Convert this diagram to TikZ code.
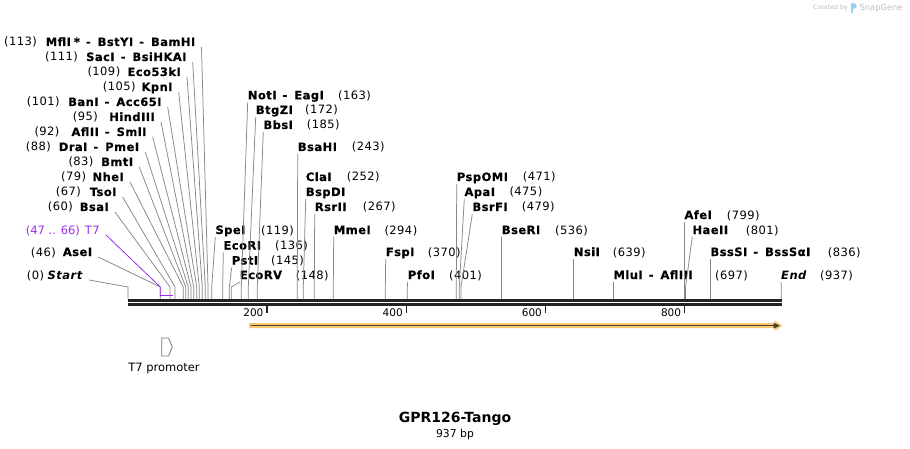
\documentclass[tikz,border=0pt]{standalone}
\usepackage{fontspec}
\setmainfont{DejaVu Sans}[LetterSpace=4, BoldFeatures={FakeBold=0.5}]
\newfontfamily\plainfont{DejaVu Sans}
\usetikzlibrary{calc}
\definecolor{siteg}{RGB}{135,135,135}
\definecolor{tpurple}{RGB}{155,45,235}
\definecolor{bbone}{RGB}{35,35,35}
\definecolor{featorange}{RGB}{250,200,110}
\definecolor{featdark}{RGB}{75,65,50}
\definecolor{wmgray}{RGB}{190,190,190}
\definecolor{wmblue}{RGB}{150,210,240}
\definecolor{promgray}{RGB}{120,120,120}
\newcommand\sepd{\hspace{6pt}-\hspace{7pt}}
\tikzset{
  nm/.style={inner sep=0pt, font=\fontsize{11.5}{13}\selectfont\bfseries},
  num/.style={inner sep=0pt, font=\fontsize{11.5}{13}\selectfont},
  siteline/.style={draw=siteg, line width=0.75pt},
  ticklab/.style={inner sep=0pt, font=\plainfont\fontsize{10.5}{12}\selectfont},
  tickmark/.style={draw=bbone, line width=1.4pt},
}
% left-hand labels: id, right x, baseline, text, stub x
\newcommand\Lsite[5]{%
  \node[nm, anchor=base east] (#1) at (#2,#3) {#4};
  \coordinate (#1t) at (#5,287);
  \coordinate (#1b) at (#5,299);
  \draw[siteline] ([shift={(6,1)}]#1.base east) -- (#1t) -- (#1b);}
% right-hand labels: id, left x, baseline, text, stub x
\newcommand\Rsite[5]{%
  \node[nm, anchor=base west] (#1) at (#2,#3) {#4};
  \coordinate (#1t) at (#5,287);
  \coordinate (#1b) at (#5,299);
  \draw[siteline] ([shift={(0,3)}]#1.base west) -- (#1t) -- (#1b);}
% position number: id, left x, baseline, number
\newcommand\SiteNum[4]{%
  \node[num, anchor=base west] (#1) at (#2,#3) {(#4)};}
\begin{document}
\begin{tikzpicture}[x=1pt,y=-1pt]
\useasboundingbox (0,0) rectangle (910,449);
\fill[white] (0,0) rectangle (910,449);

% ---------- left cluster ----------
\Lsite{mfl}{195.5}{46}{MflI\hspace{3pt}*\sepd BstYI\sepd BamHI}{208}
\SiteNum{nmfl}{4}{46}{113}
\Lsite{sac}{186.7}{61}{SacI\sepd BsiHKAI}{205.3}
\SiteNum{nsac}{45}{61}{111}
\Lsite{ecof}{181}{76}{Eco53kI}{202.3}
\SiteNum{necof}{87.3}{76}{109}
\Lsite{kpn}{172.7}{91}{KpnI}{199.3}
\SiteNum{nkpn}{102.7}{91}{105}
\Lsite{ban}{161.7}{106}{BanI\sepd Acc65I}{196.7}
\SiteNum{nban}{26.7}{106}{101}
\Lsite{hind}{155}{121}{HindIII}{193.7}
\SiteNum{nhind}{72.7}{121}{95}
\Lsite{afl}{146.7}{136}{AflII\sepd SmlI}{191}
\SiteNum{nafl}{34.3}{136}{92}
\Lsite{dra}{139.3}{151}{DraI\sepd PmeI}{188.3}
\SiteNum{ndra}{25.7}{151}{88}
\Lsite{bmt}{133.3}{166}{BmtI}{185.7}
\SiteNum{nbmt}{68.3}{166}{83}
\Lsite{nhe}{124}{181}{NheI}{183.3}
\SiteNum{nnhe}{61}{181}{79}
\Lsite{tso}{116.7}{196}{TsoI}{175}
\SiteNum{ntso}{55.7}{196}{67}
\Lsite{bsa}{109}{211}{BsaI}{170}
\SiteNum{nbsa}{47.7}{211}{60}
\Lsite{ase}{92.3}{256}{AseI}{160.3}
\SiteNum{nase}{30.7}{256}{46}
\Lsite{start}{83.3}{279}{\textit{Start}}{128}
\SiteNum{nstart}{26.7}{279}{0}

% T7 feature label (purple)
\node[num, text=tpurple, anchor=base east] (t7) at (100,234) {T7};
\node[inner sep=0pt, font=\plainfont\fontsize{11.5}{13}\selectfont, text=tpurple, anchor=base west] (nt7) at (25.7,234) {(47 .. 66)};
\coordinate (t7t) at (160.3,287);
\coordinate (t7b) at (160.3,296.3);
\draw[tpurple, line width=0.8pt] ([shift={(6,1)}]t7.base east) -- (t7t) -- (t7b);
\coordinate (t7s) at (160.3,295.5);
\coordinate (t7e) at (172.7,295.5);
\draw[tpurple, line width=1.7pt] (t7s) -- (t7e);

% ---------- middle / right clusters ----------
\Rsite{spe}{215.3}{234}{SpeI}{211.7}
\SiteNum{nspe}{261}{234}{119}
\Rsite{ecori}{223.3}{249.5}{EcoRI}{222.7}
\SiteNum{necori}{275}{249.5}{136}
\Rsite{pst}{231.7}{264.5}{PstI}{229.3}
\SiteNum{npst}{271}{264.5}{145}
\Rsite{ecorv}{239.7}{279}{EcoRV}{231.3}
\SiteNum{necorv}{295.7}{279}{148}
\Rsite{noti}{247.7}{99.3}{NotI\sepd EagI}{241.3}
\SiteNum{nnoti}{338}{99.3}{163}
\Rsite{btg}{255.7}{114}{BtgZI}{248.3}
\SiteNum{nbtg}{305}{114}{172}
\Rsite{bbs}{263.3}{129}{BbsI}{257.3}
\SiteNum{nbbs}{306.7}{129}{185}
\Rsite{bsahi}{297.7}{151}{BsaHI}{297.3}
\SiteNum{nbsahi}{351.7}{151}{243}
\node[nm, anchor=base west] (cla) at (305.7,181) {ClaI};
\SiteNum{ncla}{346.7}{181}{252}
\Rsite{bspd}{305.7}{196}{BspDI}{303.3}
\Rsite{rsr}{314.7}{211}{RsrII}{314.3}
\SiteNum{nrsr}{362.7}{211}{267}
\Rsite{mme}{333.7}{234}{MmeI}{333.3}
\SiteNum{nmme}{384.3}{234}{294}
\Rsite{fsp}{385.7}{256}{FspI}{385.3}
\SiteNum{nfsp}{427.7}{256}{370}
\Rsite{pfo}{407.7}{279}{PfoI}{407.3}
\SiteNum{npfo}{449}{279}{401}
\Rsite{psp}{456.7}{181}{PspOMI}{456.3}
\SiteNum{npsp}{522.7}{181}{471}
\Rsite{apa}{464.3}{196}{ApaI}{459.3}
\SiteNum{napa}{509.3}{196}{475}
\Rsite{bsrf}{472.3}{211}{BsrFI}{461}
\SiteNum{nbsrf}{521.7}{211}{479}
\Rsite{bser}{501.7}{234}{BseRI}{501.7}
\SiteNum{nbser}{555}{234}{536}
\Rsite{nsi}{573.7}{256}{NsiI}{573.7}
\SiteNum{nnsi}{612.7}{256}{639}
\Rsite{mlu}{613.3}{279}{MluI\sepd AflIII}{613.3}
\SiteNum{nmlu}{715}{279}{697}
\Rsite{afe}{684.3}{219}{AfeI}{684.3}
\SiteNum{nafe}{726.7}{219}{799}
\Rsite{hae}{692.3}{234}{HaeII}{685.5}
\SiteNum{nhae}{745.7}{234}{801}
\Rsite{bss}{710.3}{256}{BssSI\sepd BssSαI}{710.3}
\SiteNum{nbss}{827.7}{256}{836}
\Rsite{endl}{781}{279}{\textit{End}}{781.3}
\SiteNum{nendl}{820}{279}{937}

% ---------- backbone ----------
\fill[bbone] (128,299) rectangle (781.7,301.7);
\fill[bbone] (128,303) rectangle (781.7,305.7);
\foreach \tx/\tl in {267/200, 406.3/400, 545.5/600, 684.7/800}{
  \draw[tickmark] (\tx,305.7) -- (\tx,313);
  \node[ticklab, anchor=base east] (tk\tl) at (\tx-3.4,316) {\tl};
}

% ---------- orange feature ----------
\fill[featorange] (249,323.2) -- (774.5,323.2) -- (774.5,320.3) -- (782.3,325.7)
  -- (774.5,331.1) -- (774.5,328.2) -- (249,328.2) -- cycle;
\draw[featdark, line width=1.4pt] (250.5,325.7) -- (775,325.7);
\fill[featdark] (773.5,322.7) -- (779.8,325.7) -- (773.5,328.7) -- cycle;

% ---------- T7 promoter ----------
\draw[promgray, line width=0.8pt, line join=miter] (161.7,338) -- (168.5,338) -- (172.3,347)
  -- (168.5,356) -- (161.7,356) -- cycle;
\node[inner sep=0pt, font=\plainfont\fontsize{11.5}{13}\selectfont, anchor=base] (t7p) at (164,371.5) {T7 promoter};

% ---------- title ----------
\node[inner sep=0pt, font=\plainfont\bfseries\fontsize{14}{16}\selectfont, anchor=base] (title) at (455,422) {GPR126-Tango};
\node[inner sep=0pt, font=\plainfont\fontsize{10.8}{13}\selectfont, anchor=base] (bp) at (455,437.5) {937 bp};

% ---------- watermark ----------
\node[inner sep=0pt, font=\plainfont\fontsize{6.3}{7}\selectfont, text=wmgray, anchor=base west] (wm1) at (813,10) {Created by};
\fill[wmblue] (850.5,3) rectangle (852.6,13);
\fill[wmblue] (852.6,3) .. controls (857.5,3) and (857.5,9.5) .. (852.6,9.5) -- cycle;
\node[inner sep=0pt, font=\plainfont\fontsize{8.3}{9}\selectfont, text=wmgray, anchor=base west] (wm2) at (859.5,11) {SnapGene};
\end{tikzpicture}
\end{document}
